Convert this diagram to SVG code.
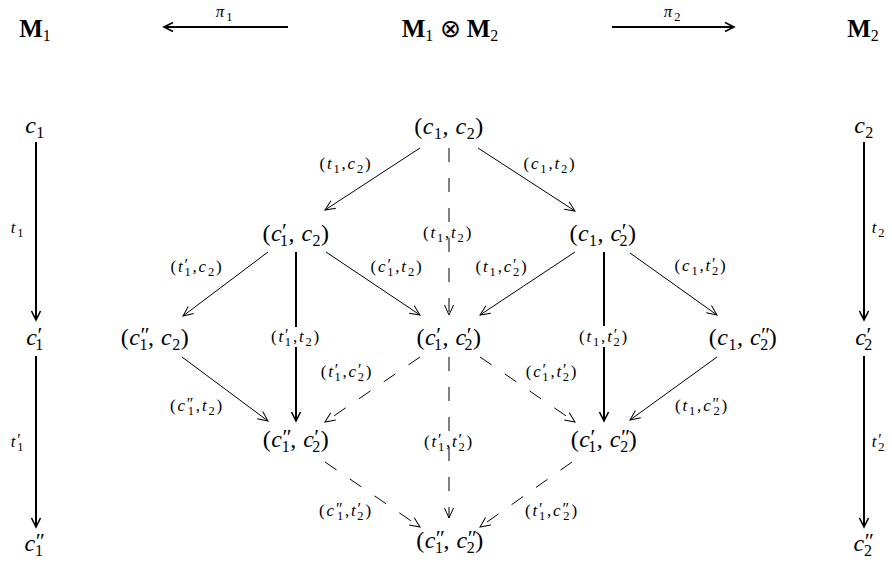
<svg xmlns="http://www.w3.org/2000/svg" width="892" height="565" viewBox="0 0 892 565">
<style>
text{font-family:"Liberation Serif","Times New Roman",serif;fill:#000;text-anchor:middle}
.n{font-size:24px;letter-spacing:0.5px}
.l{font-size:17px;letter-spacing:1.8px}
.b{font-size:25px}
.bf{font-weight:bold}
.i{font-style:italic}
.n .s,.b .s{font-size:16px}
.n .p{font-size:22px}
.l .s{font-size:12.5px}
.l .p{font-size:16px}
.thin{stroke:#000;stroke-width:1;fill:none;marker-end:url(#ah)}
.thick{stroke:#000;stroke-width:2;fill:none;marker-end:url(#ahk)}
.dash{stroke:#000;stroke-width:1;fill:none;stroke-dasharray:14 16;marker-end:url(#ah)}
</style>
<defs>
<marker id="ah" markerUnits="userSpaceOnUse" viewBox="-12 -7 14 14" refX="0" refY="0" markerWidth="14" markerHeight="14" orient="auto" overflow="visible"><path d="M-10,-4.5 L0,0 L-10,4.5" fill="none" stroke="#000" stroke-width="1" stroke-dasharray="none"/></marker>
<marker id="ahk" markerUnits="userSpaceOnUse" viewBox="-12 -7 14 14" refX="0" refY="0" markerWidth="14" markerHeight="14" orient="auto" overflow="visible"><path d="M-9,-4.5 L0,0 L-9,4.5" fill="none" stroke="#000" stroke-width="1.6"/></marker>
</defs>
<rect width="892" height="565" fill="#fff"/>

<g id="connectors">
<path class="thick" d="M288,27 L164,27"/>
<path class="thick" d="M612,27 L734,27"/>
<path class="thick" d="M36,142 L36,320"/>
<path class="thick" d="M36,356 L36,527"/>
<path class="thick" d="M864,142 L864,320"/>
<path class="thick" d="M864,356 L864,527"/>
<path class="thin" d="M420,148 L325,210"/>
<path class="thin" d="M478,148 L575,211"/>
<path class="dash" d="M449,148 L449,315"/>
<path class="thin" d="M268,252 L183,316"/>
<path class="thick" d="M296,252 L296,327 M296,347 L296,421"/>
<path class="thin" d="M326,252 L420,315"/>
<path class="thin" d="M575,252 L480,315"/>
<path class="thick" d="M604,252 L604,326 M604,347 L604,421"/>
<path class="thin" d="M630,253 L717,315"/>
<path class="thin" d="M182,357 L268,421"/>
<path class="dash" d="M420,357 L325,422"/>
<path class="dash" d="M480,357 L575,422"/>
<path class="dash" d="M449,357 L449,518"/>
<path class="thin" d="M717,357 L630,420"/>
<path class="dash" d="M325,462 L420,527"/>
<path class="dash" d="M572,462 L480,527"/>
</g>

<g id="edge-labels">
<text class="l" x="225" y="17"><tspan class="i">π</tspan><tspan class="s" dy="4">1</tspan></text>
<text class="l" x="673" y="17"><tspan class="i">π</tspan><tspan class="s" dy="4">2</tspan></text>
<text class="l" x="18" y="233"><tspan class="i">t</tspan><tspan class="s" dy="4">1</tspan></text>
<text class="l" x="18" y="447"><tspan class="i">t</tspan><tspan class="p" dy="-2">′</tspan><tspan class="s" dx="-5.5" dy="6">1</tspan></text>
<text class="l" x="879" y="233"><tspan class="i">t</tspan><tspan class="s" dy="4">2</tspan></text>
<text class="l" x="879" y="447"><tspan class="i">t</tspan><tspan class="p" dy="-2">′</tspan><tspan class="s" dx="-5.5" dy="6">2</tspan></text>

<text class="l" x="346" y="169">(<tspan class="i">t</tspan><tspan class="s" dy="4">1</tspan><tspan dy="-4">,</tspan><tspan class="i">c</tspan><tspan class="s" dy="4">2</tspan><tspan dy="-4">)</tspan></text>
<text class="l" x="550" y="169">(<tspan class="i">c</tspan><tspan class="s" dy="4">1</tspan><tspan dy="-4">,</tspan><tspan class="i">t</tspan><tspan class="s" dy="4">2</tspan><tspan dy="-4">)</tspan></text>
<text class="l" x="448" y="238">(<tspan class="i">t</tspan><tspan class="s" dy="4">1</tspan><tspan dy="-4">,</tspan><tspan class="i">t</tspan><tspan class="s" dy="4">2</tspan><tspan dy="-4">)</tspan></text>

<text class="l" x="197" y="272">(<tspan class="i">t</tspan><tspan class="p" dy="-2">′</tspan><tspan class="s" dx="-5.5" dy="6">1</tspan><tspan dy="-4">,</tspan><tspan class="i">c</tspan><tspan class="s" dy="4">2</tspan><tspan dy="-4">)</tspan></text>
<text class="l" x="397" y="272">(<tspan class="i">c</tspan><tspan class="p" dy="-2">′</tspan><tspan class="s" dx="-5.5" dy="6">1</tspan><tspan dy="-4">,</tspan><tspan class="i">t</tspan><tspan class="s" dy="4">2</tspan><tspan dy="-4">)</tspan></text>
<text class="l" x="502" y="272">(<tspan class="i">t</tspan><tspan class="s" dy="4">1</tspan><tspan dy="-4">,</tspan><tspan class="i">c</tspan><tspan class="p" dy="-2">′</tspan><tspan class="s" dx="-5.5" dy="6">2</tspan><tspan dy="-4">)</tspan></text>
<text class="l" x="701" y="271">(<tspan class="i">c</tspan><tspan class="s" dy="4">1</tspan><tspan dy="-4">,</tspan><tspan class="i">t</tspan><tspan class="p" dy="-2">′</tspan><tspan class="s" dx="-5.5" dy="6">2</tspan><tspan dy="-4">)</tspan></text>

<text class="l" x="296" y="342">(<tspan class="i">t</tspan><tspan class="p" dy="-2">′</tspan><tspan class="s" dx="-5.5" dy="6">1</tspan><tspan dy="-4">,</tspan><tspan class="i">t</tspan><tspan class="s" dy="4">2</tspan><tspan dy="-4">)</tspan></text>
<text class="l" x="604" y="342">(<tspan class="i">t</tspan><tspan class="s" dy="4">1</tspan><tspan dy="-4">,</tspan><tspan class="i">t</tspan><tspan class="p" dy="-2">′</tspan><tspan class="s" dx="-5.5" dy="6">2</tspan><tspan dy="-4">)</tspan></text>

<text class="l" x="347" y="377">(<tspan class="i">t</tspan><tspan class="p" dy="-2">′</tspan><tspan class="s" dx="-5.5" dy="6">1</tspan><tspan dy="-4">,</tspan><tspan class="i">c</tspan><tspan class="p" dy="-2">′</tspan><tspan class="s" dx="-5.5" dy="6">2</tspan><tspan dy="-4">)</tspan></text>
<text class="l" x="552" y="377">(<tspan class="i">c</tspan><tspan class="p" dy="-2">′</tspan><tspan class="s" dx="-5.5" dy="6">1</tspan><tspan dy="-4">,</tspan><tspan class="i">t</tspan><tspan class="p" dy="-2">′</tspan><tspan class="s" dx="-5.5" dy="6">2</tspan><tspan dy="-4">)</tspan></text>

<text class="l" x="197" y="411">(<tspan class="i">c</tspan><tspan class="p" dy="-2">″</tspan><tspan class="s" dx="-7.5" dy="6">1</tspan><tspan dy="-4">,</tspan><tspan class="i">t</tspan><tspan class="s" dy="4">2</tspan><tspan dy="-4">)</tspan></text>
<text class="l" x="702" y="411">(<tspan class="i">t</tspan><tspan class="s" dy="4">1</tspan><tspan dy="-4">,</tspan><tspan class="i">c</tspan><tspan class="p" dy="-2">″</tspan><tspan class="s" dx="-7.5" dy="6">2</tspan><tspan dy="-4">)</tspan></text>

<text class="l" x="449" y="447">(<tspan class="i">t</tspan><tspan class="p" dy="-2">′</tspan><tspan class="s" dx="-5.5" dy="6">1</tspan><tspan dy="-4">,</tspan><tspan class="i">t</tspan><tspan class="p" dy="-2">′</tspan><tspan class="s" dx="-5.5" dy="6">2</tspan><tspan dy="-4">)</tspan></text>

<text class="l" x="346" y="516">(<tspan class="i">c</tspan><tspan class="p" dy="-2">″</tspan><tspan class="s" dx="-7.5" dy="6">1</tspan><tspan dy="-4">,</tspan><tspan class="i">t</tspan><tspan class="p" dy="-2">′</tspan><tspan class="s" dx="-5.5" dy="6">2</tspan><tspan dy="-4">)</tspan></text>
<text class="l" x="552" y="516">(<tspan class="i">t</tspan><tspan class="p" dy="-2">′</tspan><tspan class="s" dx="-5.5" dy="6">1</tspan><tspan dy="-4">,</tspan><tspan class="i">c</tspan><tspan class="p" dy="-2">″</tspan><tspan class="s" dx="-7.5" dy="6">2</tspan><tspan dy="-4">)</tspan></text>
</g>

<g id="M1"><text class="b" x="35" y="37"><tspan class="bf">M</tspan><tspan class="s" dy="4">1</tspan></text></g>
<g id="M1xM2"><text class="b" x="450" y="37"><tspan class="bf">M</tspan><tspan class="s" dy="4">1</tspan><tspan dy="-4"> ⊗ </tspan><tspan class="bf">M</tspan><tspan class="s" dy="4">2</tspan></text></g>
<g id="M2"><text class="b" x="863" y="37"><tspan class="bf">M</tspan><tspan class="s" dy="4">2</tspan></text></g>

<g id="c1"><text class="n" x="35" y="133"><tspan class="i">c</tspan><tspan class="s" dy="5">1</tspan></text></g>
<g id="c1p"><text class="n" x="35" y="345"><tspan class="i">c</tspan><tspan class="p" dy="-3">′</tspan><tspan class="s" dx="-7.5" dy="8">1</tspan></text></g>
<g id="c1pp"><text class="n" x="35" y="551"><tspan class="i">c</tspan><tspan class="p" dy="-3">″</tspan><tspan class="s" dx="-10.5" dy="8">1</tspan></text></g>
<g id="c2"><text class="n" x="864" y="133"><tspan class="i">c</tspan><tspan class="s" dy="5">2</tspan></text></g>
<g id="c2p"><text class="n" x="864" y="345"><tspan class="i">c</tspan><tspan class="p" dy="-3">′</tspan><tspan class="s" dx="-7.5" dy="8">2</tspan></text></g>
<g id="c2pp"><text class="n" x="864" y="551"><tspan class="i">c</tspan><tspan class="p" dy="-3">″</tspan><tspan class="s" dx="-10.5" dy="8">2</tspan></text></g>

<g id="n-c1-c2"><text class="n" x="449" y="134">(<tspan class="i">c</tspan><tspan class="s" dy="5">1</tspan><tspan dy="-5">, </tspan><tspan class="i">c</tspan><tspan class="s" dy="5">2</tspan><tspan dy="-5">)</tspan></text></g>
<g id="n-c1p-c2"><text class="n" x="296" y="241">(<tspan class="i">c</tspan><tspan class="p" dy="-3">′</tspan><tspan class="s" dx="-7.5" dy="8">1</tspan><tspan dy="-5">, </tspan><tspan class="i">c</tspan><tspan class="s" dy="5">2</tspan><tspan dy="-5">)</tspan></text></g>
<g id="n-c1-c2p"><text class="n" x="603" y="241">(<tspan class="i">c</tspan><tspan class="s" dy="5">1</tspan><tspan dy="-5">, </tspan><tspan class="i">c</tspan><tspan class="p" dy="-3">′</tspan><tspan class="s" dx="-7.5" dy="8">2</tspan><tspan dy="-5">)</tspan></text></g>
<g id="n-c1pp-c2"><text class="n" x="155" y="345">(<tspan class="i">c</tspan><tspan class="p" dy="-3">″</tspan><tspan class="s" dx="-10.5" dy="8">1</tspan><tspan dy="-5">, </tspan><tspan class="i">c</tspan><tspan class="s" dy="5">2</tspan><tspan dy="-5">)</tspan></text></g>
<g id="n-c1p-c2p"><text class="n" x="449" y="345">(<tspan class="i">c</tspan><tspan class="p" dy="-3">′</tspan><tspan class="s" dx="-7.5" dy="8">1</tspan><tspan dy="-5">, </tspan><tspan class="i">c</tspan><tspan class="p" dy="-3">′</tspan><tspan class="s" dx="-7.5" dy="8">2</tspan><tspan dy="-5">)</tspan></text></g>
<g id="n-c1-c2pp"><text class="n" x="743" y="345">(<tspan class="i">c</tspan><tspan class="s" dy="5">1</tspan><tspan dy="-5">, </tspan><tspan class="i">c</tspan><tspan class="p" dy="-3">″</tspan><tspan class="s" dx="-10.5" dy="8">2</tspan><tspan dy="-5">)</tspan></text></g>
<g id="n-c1pp-c2p"><text class="n" x="296" y="447">(<tspan class="i">c</tspan><tspan class="p" dy="-3">″</tspan><tspan class="s" dx="-10.5" dy="8">1</tspan><tspan dy="-5">, </tspan><tspan class="i">c</tspan><tspan class="p" dy="-3">′</tspan><tspan class="s" dx="-7.5" dy="8">2</tspan><tspan dy="-5">)</tspan></text></g>
<g id="n-c1p-c2pp"><text class="n" x="604" y="447">(<tspan class="i">c</tspan><tspan class="p" dy="-3">′</tspan><tspan class="s" dx="-7.5" dy="8">1</tspan><tspan dy="-5">, </tspan><tspan class="i">c</tspan><tspan class="p" dy="-3">″</tspan><tspan class="s" dx="-10.5" dy="8">2</tspan><tspan dy="-5">)</tspan></text></g>
<g id="n-c1pp-c2pp"><text class="n" x="450" y="548">(<tspan class="i">c</tspan><tspan class="p" dy="-3">″</tspan><tspan class="s" dx="-10.5" dy="8">1</tspan><tspan dy="-5">, </tspan><tspan class="i">c</tspan><tspan class="p" dy="-3">″</tspan><tspan class="s" dx="-10.5" dy="8">2</tspan><tspan dy="-5">)</tspan></text></g>
</svg>
